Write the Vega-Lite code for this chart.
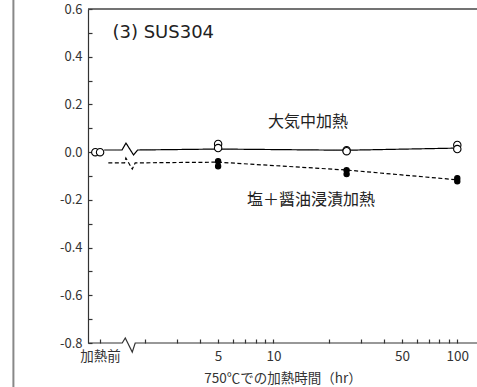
{
  "$schema": "https://vega.github.io/schema/vega-lite/v6.json",
  "width": 389,
  "height": 334,
  "autosize": {"type": "none"},
  "padding": {"left": 88, "top": 9, "right": 0, "bottom": 44},
  "background": "white",
  "config": {"view": {"stroke": null}, "font": "Noto Sans CJK JP"},
  "resolve": {"axis": {"x": "independent", "y": "independent"}},
  "datasets": {
    "points": [
      {"s": "air", "h": 1.074, "v": 0.0},
      {"s": "air", "h": 1.14, "v": 0.0},
      {"s": "air", "h": 5, "v": 0.034},
      {"s": "air", "h": 5, "v": 0.017},
      {"s": "air", "h": 25, "v": 0.008},
      {"s": "air", "h": 25, "v": 0.004},
      {"s": "air", "h": 100, "v": 0.03},
      {"s": "air", "h": 100, "v": 0.013},
      {"s": "salt", "h": 5, "v": -0.038},
      {"s": "salt", "h": 5, "v": -0.059},
      {"s": "salt", "h": 25, "v": -0.076},
      {"s": "salt", "h": 25, "v": -0.092},
      {"s": "salt", "h": 100, "v": -0.109},
      {"s": "salt", "h": 100, "v": -0.122}
    ],
    "lines": [
      {"s": "air", "h": 1.2, "v": 0.009},
      {"s": "air", "h": 1.5, "v": 0.009},
      {"s": "air", "h": 1.577, "v": 0.038},
      {"s": "air", "h": 1.734, "v": -0.012},
      {"s": "air", "h": 1.823, "v": 0.009},
      {"s": "air", "h": 5, "v": 0.013},
      {"s": "air", "h": 25, "v": 0.008},
      {"s": "air", "h": 100, "v": 0.017},
      {"s": "salt", "h": 1.264, "v": -0.045},
      {"s": "salt", "h": 1.55, "v": -0.045},
      {"s": "salt", "h": 1.575, "v": -0.025},
      {"s": "salt", "h": 1.707, "v": -0.071},
      {"s": "salt", "h": 1.77, "v": -0.045},
      {"s": "salt", "h": 5, "v": -0.042},
      {"s": "salt", "h": 25, "v": -0.075},
      {"s": "salt", "h": 100, "v": -0.116}
    ],
    "xaxis": [
      {"h": 0.98, "v": -0.8},
      {"h": 1.505, "v": -0.8},
      {"h": 1.563, "v": -0.779},
      {"h": 1.706, "v": -0.838},
      {"h": 1.77, "v": -0.8},
      {"h": 128, "v": -0.8}
    ],
    "title": [
      {"t": "(3)  SUS304", "h": 2.515, "v": 0.499}
    ],
    "labels": [
      {"t": "大気中加熱", "h": 15.4, "v": 0.126},
      {"t": "塩＋醤油浸漬加熱", "h": 16.0, "v": -0.2006}
    ]
  },
  "layer": [
    {
      "data": {"name": "lines"},
      "mark": {"type": "line", "color": "black", "strokeWidth": 1.2},
      "encoding": {
        "x": {
          "field": "h", "type": "quantitative",
          "scale": {"type": "log", "domain": [0.98, 128], "nice": false},
          "title": "750℃での加熱時間（hr）",
          "axis": {
            "values": [1.14, 2, 3, 4, 5, 6, 7, 8, 9, 10, 20, 30, 40, 50, 60, 70, 80, 90, 100],
            "labelExpr": "datum.value < 1.5 ? '加熱前' : ((datum.value == 5 || datum.value == 10 || datum.value == 50 || datum.value == 100) ? datum.value + '' : '')",
            "domain": false,
            "grid": false,
            "tickSize": -4,
            "tickColor": "#333",
            "tickWidth": 1.2,
            "labelPadding": 10,
            "labelFontSize": 13.5,
            "labelColor": "#333",
            "labelFlush": false,
            "labelOverlap": false,
            "titleFontSize": 13.5,
            "titleFontWeight": "normal",
            "titleColor": "#333",
            "titlePadding": 9
          }
        },
        "y": {
          "field": "v", "type": "quantitative",
          "scale": {"domain": [-0.8, 0.6], "nice": false, "zero": false},
          "axis": {
            "values": [-0.8, -0.7, -0.6, -0.5, -0.4, -0.3, -0.2, -0.1, 0, 0.1, 0.2, 0.3, 0.4, 0.5, 0.6],
            "labelExpr": "round(datum.value * 10) % 2 == 0 ? replace(format(datum.value, '.1f'), '−', '-') : ''",
            "title": null,
            "grid": false,
            "domainColor": "#333",
            "domainWidth": 1.2,
            "tickSize": -4,
            "tickColor": "#333",
            "tickWidth": 1.2,
            "labelPadding": 10,
            "labelFontSize": 13,
            "labelColor": "#333",
            "labelFlush": false,
            "labelOverlap": false
          }
        },
        "strokeDash": {
          "field": "s", "type": "nominal",
          "scale": {"domain": ["air", "salt"], "range": [[1, 0], [4, 2.5]]},
          "legend": null
        }
      }
    },
    {
      "data": {"name": "points"},
      "mark": {"type": "point", "shape": "circle", "filled": true, "stroke": "black", "strokeWidth": 1.1, "opacity": 1},
      "encoding": {
        "x": {"field": "h", "type": "quantitative", "scale": {"type": "log", "domain": [0.98, 128], "nice": false}, "axis": null},
        "y": {"field": "v", "type": "quantitative", "scale": {"domain": [-0.8, 0.6], "nice": false, "zero": false}, "axis": null},
        "fill": {"field": "s", "type": "nominal", "scale": {"domain": ["air", "salt"], "range": ["white", "black"]}, "legend": null},
        "size": {"field": "s", "type": "nominal", "scale": {"domain": ["air", "salt"], "range": [55, 28]}, "legend": null}
      }
    },
    {
      "data": {"name": "xaxis"},
      "mark": {"type": "line", "color": "#333", "strokeWidth": 1.2, "clip": false},
      "encoding": {
        "x": {"field": "h", "type": "quantitative", "scale": {"type": "log", "domain": [0.98, 128], "nice": false}, "axis": null},
        "y": {"field": "v", "type": "quantitative", "scale": {"domain": [-0.8, 0.6], "nice": false, "zero": false}, "axis": null}
      }
    },
    {
      "data": {"values": [{}]},
      "mark": {"type": "rule", "color": "#444", "strokeWidth": 1.5, "clip": false},
      "encoding": {
        "y": {"datum": 0.6, "type": "quantitative", "scale": {"domain": [-0.8, 0.6], "nice": false, "zero": false}, "axis": null}
      }
    },
    {
      "data": {"values": [{}]},
      "mark": {"type": "rule", "color": "#888", "strokeWidth": 2, "clip": false},
      "encoding": {
        "x": {"datum": 0.385, "type": "quantitative", "scale": {"type": "log", "domain": [0.98, 128], "nice": false}, "axis": null},
        "y": {"datum": 0.64, "type": "quantitative", "scale": {"domain": [-0.8, 0.6], "nice": false, "zero": false}, "axis": null},
        "y2": {"datum": -0.99}
      }
    },
    {
      "data": {"name": "title"},
      "mark": {"type": "text", "font": "DejaVu Sans", "fontSize": 18, "color": "#222", "align": "center", "baseline": "middle"},
      "encoding": {
        "x": {"field": "h", "type": "quantitative", "scale": {"type": "log", "domain": [0.98, 128], "nice": false}, "axis": null},
        "y": {"field": "v", "type": "quantitative", "scale": {"domain": [-0.8, 0.6], "nice": false, "zero": false}, "axis": null},
        "text": {"field": "t"}
      }
    },
    {
      "data": {"name": "labels"},
      "mark": {"type": "text", "fontSize": 16, "color": "#222", "align": "center", "baseline": "middle"},
      "encoding": {
        "x": {"field": "h", "type": "quantitative", "scale": {"type": "log", "domain": [0.98, 128], "nice": false}, "axis": null},
        "y": {"field": "v", "type": "quantitative", "scale": {"domain": [-0.8, 0.6], "nice": false, "zero": false}, "axis": null},
        "text": {"field": "t"}
      }
    }
  ]
}
